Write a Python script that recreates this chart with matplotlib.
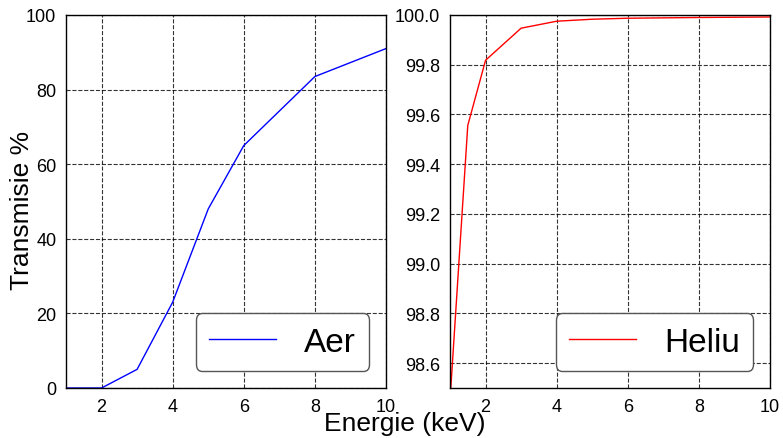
import matplotlib.pyplot as plt

plt.rcParams['font.family'] = ['Liberation Sans', 'DejaVu Sans']

energy_aer = [1, 2, 3, 4, 5, 6, 8, 10]
trans_aer = [0.0, 0.0, 5.0, 23.0, 48.0, 65.0, 83.5, 91.0]

energy_he = [1, 1.5, 2, 3, 4, 5, 6, 8, 10]
trans_he = [98.45, 99.556, 99.818, 99.947, 99.975, 99.983, 99.987, 99.99, 99.992]

fig = plt.figure(figsize=(7.83, 4.39), dpi=100)
ax1 = fig.add_axes([66 / 783, 1 - 389 / 439, 320 / 783, 373 / 439])
ax2 = fig.add_axes([450 / 783, 1 - 389 / 439, 320 / 783, 373 / 439])

ax1.plot(energy_aer, trans_aer, color='blue', linewidth=1, label='Aer')
ax2.plot(energy_he, trans_he, color='red', linewidth=1, label='Heliu')

ax1.set_xlim(1, 10)
ax1.set_ylim(0, 100)
ax2.set_xlim(1, 10)
ax2.set_ylim(98.5, 100.0)
ax2.set_yticks([98.6, 98.8, 99.0, 99.2, 99.4, 99.6, 99.8, 100.0])

for ax in (ax1, ax2):
    ax.set_xticks([2, 4, 6, 8, 10])
    ax.grid(True, color='black', linestyle='--', linewidth=0.8, alpha=0.8)
    ax.tick_params(length=0, labelsize=13, pad=7)
    for s in ax.spines.values():
        s.set_color('black')
        s.set_linewidth(1)
    leg = ax.legend(loc='lower right', fontsize=24, handlelength=2.0,
                    handletextpad=0.85, borderpad=0.4, borderaxespad=0,
                    bbox_to_anchor=(0.948, 0.046), framealpha=1)
    leg.get_frame().set_edgecolor('#555555')

fig.text(22 / 783, 1 - 210 / 439, 'Transmisie %', ha='center', va='center',
         rotation=90, fontsize=19)
fig.text(405 / 783, 1 - 424 / 439, 'Energie (keV)', ha='center', va='center', fontsize=19)

fig.savefig('out.png', dpi=100)
